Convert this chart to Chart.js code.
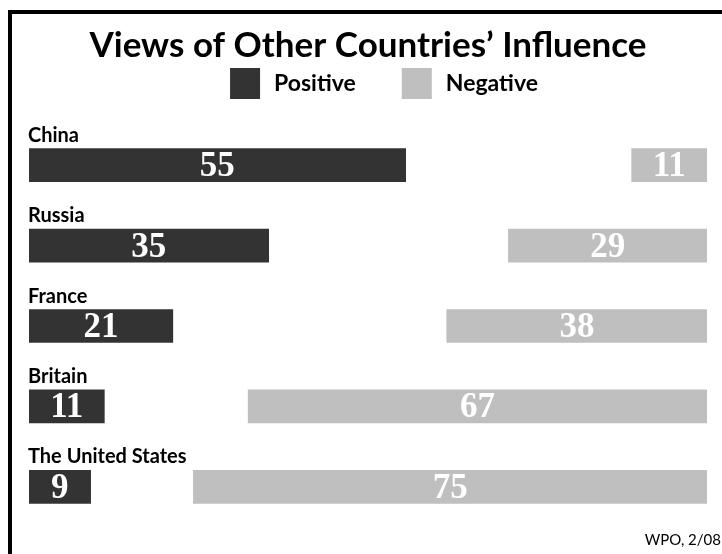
<!DOCTYPE html>
<html>
<head>
<meta charset="utf-8">
<script src="https://cdn.jsdelivr.net/npm/chart.js@4.4.1/dist/chart.umd.min.js"></script>
<style>
  html, body { margin: 0; padding: 0; background: #fff; }
  #wrap { position: relative; width: 722px; height: 554px; overflow: hidden; }
  #frame {
    position: absolute; left: 8px; top: 10px; width: 760px; height: 600px;
    border-left: 4px solid #000; border-top: 4px solid #000;
  }
  #chart { position: absolute; left: 0; top: 0; }
</style>
</head>
<body>
<div id="wrap">
  <div id="frame"></div>
  <canvas id="chart" width="722" height="554"></canvas>
</div>
<script>
// data
const countries = ['China', 'Russia', 'France', 'Britain', 'The United States'];
const positive = [55, 35, 21, 11, 9];
const negative = [11, 29, 38, 67, 75];
const seriesNames = ['Positive', 'Negative'];
const seriesColors = ['#333333', '#bfbfbf'];
const titleText = 'Views of Other Countries\u2019 Influence';
const sourceNote = 'WPO, 2/08';

// positive bars grow from the left, negative bars from the right
const scaleMax = 99;

// draws legend, country names, values and the source note
const annotate = {
    id: 'annotate',
    afterDatasetsDraw(chart) {
        const ctx = chart.ctx;
        const area = chart.chartArea;
        ctx.save();

        // legend
        ctx.font = 'bold 23px Lato';
        ctx.textBaseline = 'middle';
        ctx.textAlign = 'left';
        const box = 30, gap = 14, itemGap = 46;
        const widths = seriesNames.map(n => ctx.measureText(n).width);
        const total = widths.reduce((a, w) => a + box + gap + w, 0) + itemGap;
        let x = 384 - total / 2;
        const ly = 68;
        seriesNames.forEach((name, i) => {
            ctx.fillStyle = seriesColors[i];
            ctx.fillRect(x, ly, box, box + 1);
            ctx.fillStyle = '#000';
            ctx.fillText(name, x + box + gap, ly + box / 2 + 1);
            x += box + gap + widths[i] + itemGap;
        });

        // country names above the bars
        const posMeta = chart.getDatasetMeta(0);
        ctx.font = 'bold 20px Lato';
        ctx.textBaseline = 'alphabetic';
        ctx.fillStyle = '#000';
        posMeta.data.forEach((bar, i) => {
            ctx.fillText(countries[i], area.left - 1, bar.y - bar.height / 2 - 7);
        });

        // values inside the bars
        ctx.font = 'bold 35px "Liberation Serif"';
        ctx.fillStyle = '#fff';
        ctx.textAlign = 'center';
        ctx.textBaseline = 'middle';
        chart.data.datasets.forEach((ds, d) => {
            chart.getDatasetMeta(d).data.forEach((bar, i) => {
                const mid = (bar.x + bar.base) / 2;
                ctx.fillText(ds.data[i], mid, bar.y + 2);
            });
        });

        // source
        ctx.font = '15px Lato';
        ctx.fillStyle = '#000';
        ctx.textAlign = 'right';
        ctx.textBaseline = 'alphabetic';
        ctx.fillText(sourceNote, chart.width - 1, 545);
        ctx.restore();
    }
};

new Chart(document.getElementById('chart'), {
    type: 'bar',
    data: {
        labels: countries,
        datasets: [
            {
                label: seriesNames[0],
                data: positive,
                backgroundColor: seriesColors[0],
                xAxisID: 'xPos'
            },
            {
                label: seriesNames[1],
                data: negative,
                backgroundColor: seriesColors[1],
                xAxisID: 'xNeg'
            }
        ]
    },
    options: {
        indexAxis: 'y',
        responsive: false,
        animation: false,
        devicePixelRatio: 1,
        events: [],
        datasets: {
            bar: {
                grouped: false,
                barThickness: 33,
                borderWidth: 0
            }
        },
        layout: {
            padding: { left: 29, right: 15, top: 0, bottom: 27 }
        },
        plugins: {
            legend: { display: false },
            tooltip: { enabled: false },
            title: {
                display: true,
                text: titleText,
                color: '#000',
                font: { family: 'Lato', size: 35, weight: 'bold', lineHeight: 1.2 },
                padding: { top: 25, bottom: 58 }
            }
        },
        scales: {
            xPos: { type: 'linear', axis: 'x', min: 0, max: scaleMax, display: false },
            xNeg: { type: 'linear', axis: 'x', min: 0, max: scaleMax, reverse: true, display: false },
            y: { display: false }
        }
    },
    plugins: [annotate]
});
</script>
</body>
</html>
